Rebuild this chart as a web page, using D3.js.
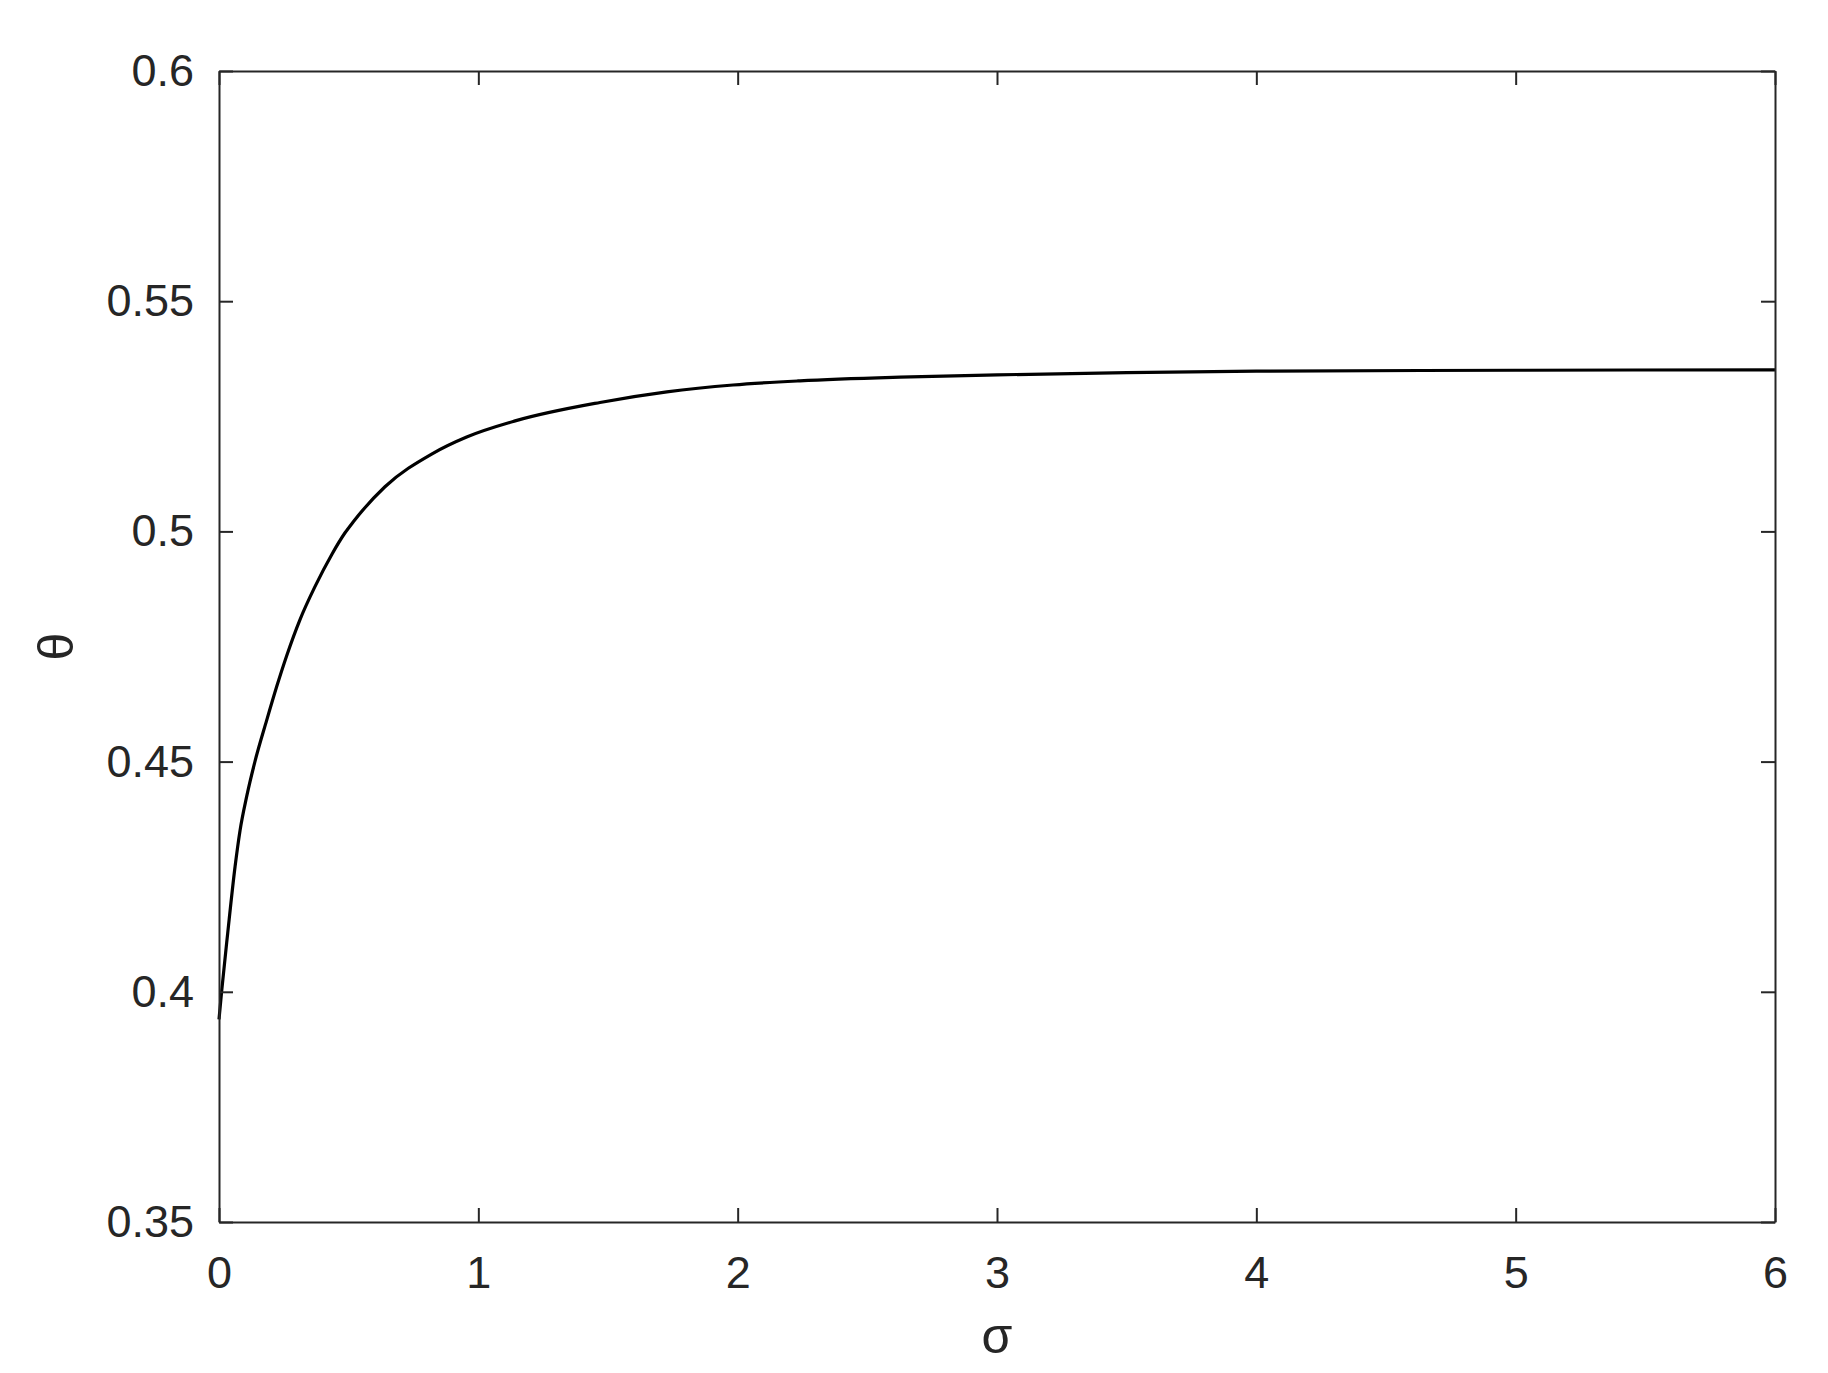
<!DOCTYPE html>
<html>
<head>
<meta charset="utf-8">
<script src="https://cdn.jsdelivr.net/npm/d3@7"></script>
<style>
  body { margin: 0; background: #fff; }
  svg text { font-family: "Liberation Sans", Arial, sans-serif; fill: #262626; }
</style>
</head>
<body>
<div id="chart"></div>
<script>
// values
var sigma = [0, 0.010, 0.0335, 0.062, 0.081, 0.107, 0.139, 0.184, 0.2225, 0.261, 0.312, 0.370, 0.435, 0.486,
             0.518, 0.640, 0.820, 0.955, 1.142, 1.469, 1.727, 1.982, 2.24, 2.626, 3, 3.5, 4, 5, 6];
var theta = [0.394, 0.400, 0.4127, 0.4272, 0.4350, 0.4425, 0.4501, 0.4590, 0.4663, 0.4730, 0.4808, 0.4880, 0.4950, 0.4997,
             0.5021, 0.5097, 0.5168, 0.5205, 0.5240, 0.5280, 0.5303, 0.5318, 0.5327, 0.5335, 0.5340, 0.5345, 0.5348, 0.5350, 0.5351];
var xTicks = [0, 1, 2, 3, 4, 5, 6];
var yTicks = [0.35, 0.4, 0.45, 0.5, 0.55, 0.6];

var canvasWidth = 1828;
var canvasHeight = 1373;
var margin = {top: 71, left: 219, right: 53, bottom: 151};
var width = canvasWidth - margin.left - margin.right;
var height = canvasHeight - margin.top - margin.bottom;
var tickLen = 14;
var axisColor = "#262626";

var svg = d3.select("#chart").append("svg")
    .attr("width", canvasWidth)
    .attr("height", canvasHeight);

var g = svg.append("g")
    .attr("transform", "translate(" + margin.left + "," + margin.top + ")");

var x = d3.scaleLinear().domain([0, 6]).range([0, width]);
var y = d3.scaleLinear().domain([0.35, 0.6]).range([height, 0]);

// curve
var data = sigma.map(function (s, i) { return {s: s, t: theta[i]}; });
var line = d3.line()
    .x(function (d) { return x(d.s); })
    .y(function (d) { return y(d.t); })
    .curve(d3.curveMonotoneX);

g.append("path")
    .datum(data)
    .attr("d", line)
    .attr("fill", "none")
    .attr("stroke", "#000")
    .attr("stroke-width", 3.2);

// axes (ticks inward, box all round)
var fmt = function (d) { return String(+d.toFixed(2)); };

var xBottom = g.append("g")
    .attr("transform", "translate(0," + height + ")")
    .call(d3.axisBottom(x).tickValues(xTicks).tickSizeInner(-tickLen).tickSizeOuter(0).tickPadding(34).tickFormat(fmt));
var xTop = g.append("g")
    .call(d3.axisTop(x).tickValues(xTicks).tickSizeInner(-tickLen).tickSizeOuter(0).tickFormat(""));
var yLeft = g.append("g")
    .call(d3.axisLeft(y).tickValues(yTicks).tickSizeInner(-tickLen).tickSizeOuter(0).tickPadding(25).tickFormat(fmt));
var yRight = g.append("g")
    .attr("transform", "translate(" + width + ",0)")
    .call(d3.axisRight(y).tickValues(yTicks).tickSizeInner(-tickLen).tickSizeOuter(0).tickFormat(""));

[xBottom, xTop, yLeft, yRight].forEach(function (ax) {
    ax.selectAll("path").attr("stroke", axisColor).attr("stroke-width", 2);
    ax.selectAll("line").attr("stroke", axisColor).attr("stroke-width", 2);
    ax.selectAll("text").style("font-size", "45px").attr("fill", axisColor);
});
xBottom.selectAll("text").attr("dy", "0.71em");

// axis labels
g.append("text")
    .attr("x", width / 2)
    .attr("y", height + 131)
    .attr("text-anchor", "middle")
    .style("font-size", "50px")
    .text("σ");

svg.append("text")
    .attr("transform", "translate(73," + (margin.top + height / 2) + ") rotate(-90)")
    .attr("text-anchor", "middle")
    .style("font-size", "50px")
    .text("θ");
</script>
</body>
</html>
